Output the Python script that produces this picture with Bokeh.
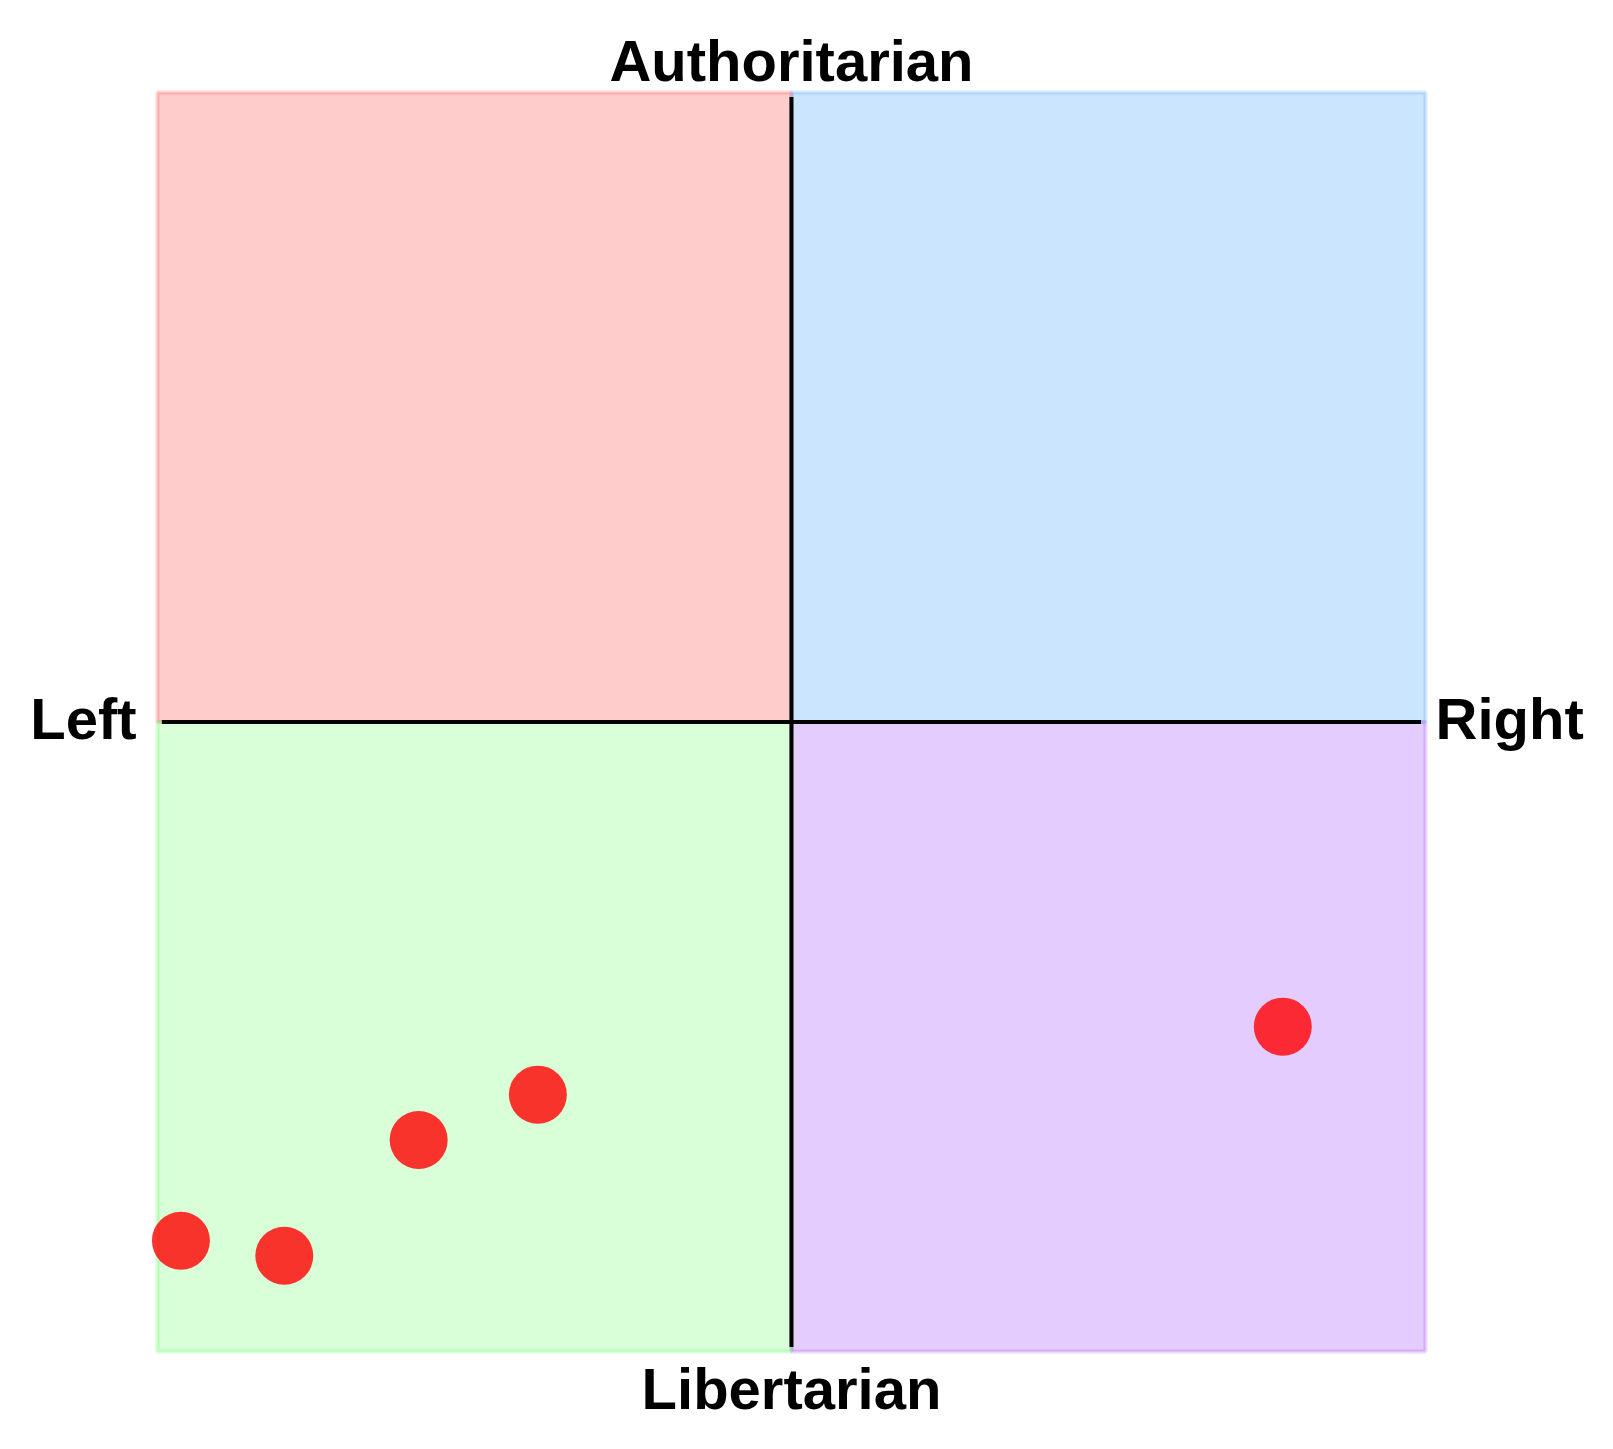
from bokeh.plotting import figure
from bokeh.models import Range1d
from bokeh.core.properties import value
from bokeh.embed import file_html
from bokeh.resources import INLINE

# Quadrants (left, right, bottom, top) and colours
quad_left = [-10, 0, -10, 0]
quad_right = [0, 10, 0, 10]
quad_bottom = [0, 0, -10, -10]
quad_top = [10, 10, 0, 0]
quad_colors = ["#ff0000", "#007fff", "#00ff00", "#7f00ff"]
quad_alpha = [0.2, 0.2, 0.15, 0.2]

# Points
pts_x = [-9.63, -8.0, -5.88, -4.0, 7.75]
pts_y = [-8.24, -8.48, -6.64, -5.92, -4.84]

# Axis extent
axis_extent = 9.93

# Labels
labels = ["Authoritarian", "Libertarian", "Left", "Right"]
label_x = [0.0, 0.0, -10.33, 10.16]
label_y = [10.50, -10.59, 0.05, 0.05]
label_align = ["center", "center", "right", "left"]

p = figure(width=1597, height=1433, output_backend="svg", toolbar_location=None,
           x_range=Range1d(-12.476, 12.714), y_range=Range1d(-11.303, 11.461),
           min_border=0, min_border_left=0, min_border_right=0,
           min_border_top=0, min_border_bottom=0)
p.axis.visible = False
p.grid.visible = False
p.outline_line_color = None
p.background_fill_color = "white"
p.border_fill_color = "white"

for l, r, b, t, c, a in zip(quad_left, quad_right, quad_bottom, quad_top, quad_colors, quad_alpha):
    p.quad(left=[l], right=[r], bottom=[b], top=[t], fill_color=c, fill_alpha=a,
           line_color=c, line_alpha=0.16, line_width=4)

p.line([-axis_extent, axis_extent], [0, 0], line_color="black", line_width=4)
p.line([0, 0], [-axis_extent, axis_extent], line_color="black", line_width=4)

p.scatter(pts_x, pts_y, size=58, fill_color="#ff0000", fill_alpha=0.8, line_color=None)

for t, x, y, al in zip(labels, label_x, label_y, label_align):
    p.text(x=[x], y=[y], text=[t], text_font=value("Liberation Sans"), text_font_style="bold",
           text_font_size="58px", text_align=al, text_baseline="alphabetic", text_color="black")

open("out.html", "w").write(file_html(p, INLINE))
